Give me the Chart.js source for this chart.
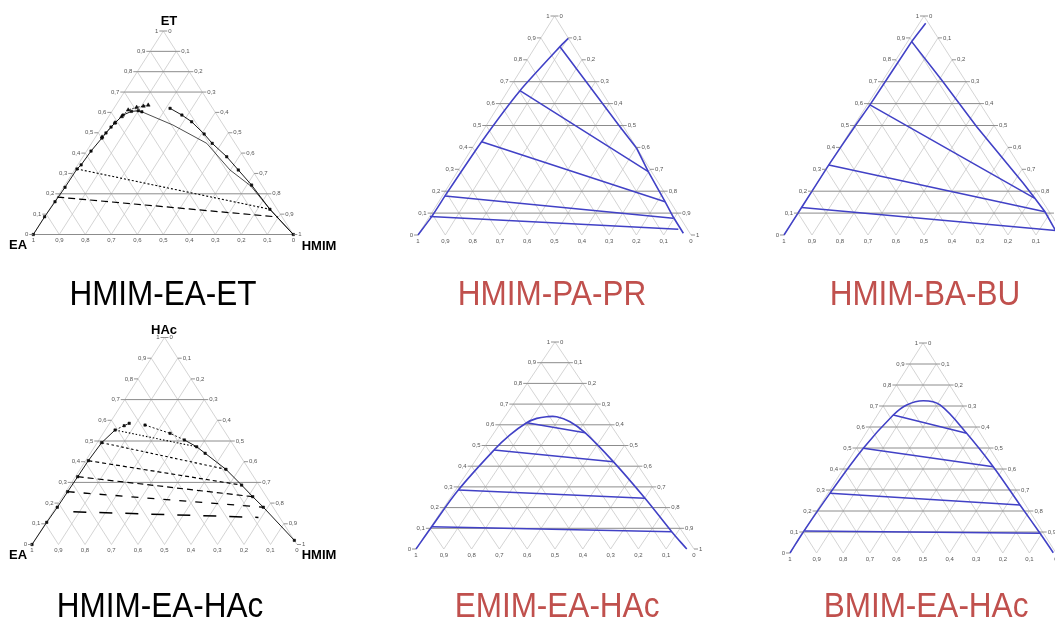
<!DOCTYPE html>
<html>
<head>
<meta charset="utf-8">
<title>Ternary phase diagrams</title>
<script src="https://cdn.jsdelivr.net/npm/chart.js@4.4.1/dist/chart.umd.min.js"></script>
<style>
  html, body { margin: 0; padding: 0; background: #fff; overflow: hidden; width: 1055px; height: 620px; }
  .panel { position: absolute; }
  .panel canvas { display: block; }
</style>
</head>
<body>
<div class="panel" id="panel0"><canvas></canvas></div>
<div class="panel" id="panel1"><canvas></canvas></div>
<div class="panel" id="panel2"><canvas></canvas></div>
<div class="panel" id="panel3"><canvas></canvas></div>
<div class="panel" id="panel4"><canvas></canvas></div>
<div class="panel" id="panel5"><canvas></canvas></div>
<script>
// Every composition is [ionic-liquid fraction (bottom-right vertex), top-vertex fraction];
// the bottom-left component is the remainder.

const panelTitles = ['HMIM-EA-ET', 'HMIM-PA-PR', 'HMIM-BA-BU', 'HMIM-EA-HAc', 'EMIM-EA-HAc', 'BMIM-EA-HAc'];
const fractionLabels = ['0', '0,1', '0,2', '0,3', '0,4', '0,5', '0,6', '0,7', '0,8', '0,9', '1'];

// HMIM - EA - ET
const etLeftBranch = [[0, 0], [0, 0.087], [0.003, 0.161], [0.006, 0.232], [0.007, 0.322], [0.013, 0.342],
  [0.017, 0.410], [0.027, 0.474], [0.030, 0.499], [0.035, 0.528], [0.040, 0.548], [0.052, 0.587],
  [0.075, 0.605], [0.100, 0.608], [0.116, 0.603]];
const etRightThin = [[0.116, 0.603], [0.268, 0.538], [0.443, 0.448], [0.598, 0.317], [0.718, 0.238], [0.848, 0.124], [1, 0]];
const etRightMarked = [[0.216, 0.620], [0.278, 0.587], [0.332, 0.554], [0.410, 0.494], [0.464, 0.448],
  [0.553, 0.382], [0.630, 0.317], [0.718, 0.243], [0.848, 0.124], [1, 0]];
const etTriangleBranch = [[0.025, 0.479], [0.040, 0.549], [0.050, 0.579], [0.059, 0.612], [0.085, 0.625], [0.108, 0.631], [0.124, 0.636]];
const etTieDotted = [[0.007, 0.322], [0.848, 0.124]];
const etTieDashed = [[0, 0.184], [0.898, 0.086]];

// HMIM - PA - PR
const prLeftBranch = [[0, 0], [0.008, 0.084], [0.010, 0.190], [0.020, 0.426], [0.044, 0.659], [0.090, 0.860], [0.1015, 0.898]];
const prRightBranch = [[0.090, 0.860], [0.4925, 0.4945], [0.603, 0.396], [0.699, 0.289], [0.829, 0.152], [0.895, 0.081], [0.968, 0.008]];
const prTieLines = [
  [[0.044, 0.659], [0.699, 0.289]],
  [[0.020, 0.426], [0.829, 0.152]],
  [[0.010, 0.178], [0.897, 0.076]],
  [[0.002, 0.084], [0.9405, 0.026]]
];

// HMIM - BA - BU
const buLeftBranch = [[0, 0], [0, 0.122], [0, 0.320], [0.005, 0.498], [0.010, 0.594], [0.0145, 0.883], [0.0225, 0.967]];
const buRightBranch = [[0.0145, 0.883], [0.209, 0.708], [0.441, 0.4945], [0.7366, 0.236], [0.812, 0.1676], [0.879, 0.106], [0.96, 0.02]];
const buTieLines = [
  [[0.010, 0.594], [0.812, 0.1676]],
  [[0, 0.320], [0.879, 0.106]],
  [[0, 0.126], [0.96, 0.02]]
];

// HMIM - EA - HAc
const hacLeftBranch = [[0, 0], [0.002, 0.107], [0.0055, 0.180], [0.007, 0.255], [0.0087, 0.3275], [0.010, 0.405],
  [0.017, 0.492], [0.037, 0.553], [0.061, 0.574], [0.074, 0.5855]];
const hacRightBranch = [[0.138, 0.577], [0.2525, 0.537], [0.3225, 0.505], [0.3855, 0.472], [0.433, 0.4406],
  [0.5505, 0.363], [0.6475, 0.287], [0.7175, 0.231], [0.783, 0.180], [0.98, 0.02]];
const hacTieLines = [
  [[0.037, 0.553], [0.3855, 0.472]],
  [[0.017, 0.492], [0.5505, 0.363]],
  [[0.010, 0.405], [0.6475, 0.287]],
  [[0.0087, 0.3275], [0.7175, 0.231]],
  [[0.007, 0.255], [0.783, 0.180]],
  [[0.077, 0.158], [0.789, 0.131]]
];

// EMIM - EA - HAc
const emimBinodal = [[0, 0], [0.0026, 0.1077], [0.0097, 0.285], [0.0416, 0.478], [0.0625, 0.551], [0.093, 0.610],
  [0.119, 0.631], [0.1505, 0.639], [0.1865, 0.639], [0.2465, 0.615], [0.327, 0.562], [0.4987, 0.422],
  [0.7012, 0.245], [0.878, 0.0836], [0.974, 0]];
const emimTieLines = [
  [[0.093, 0.610], [0.327, 0.562]],
  [[0.0416, 0.478], [0.4987, 0.422]],
  [[0.0097, 0.285], [0.7012, 0.245]],
  [[0.0026, 0.1077], [0.878, 0.0836]]
];

// BMIM - EA - HAc
const bmimBinodal = [[0, 0], [0, 0.1014], [0.008, 0.284], [0.0263, 0.4986], [0.0597, 0.657], [0.0862, 0.705],
  [0.1385, 0.725], [0.2115, 0.705], [0.379, 0.570], [0.5585, 0.411], [0.7504, 0.2286], [0.893, 0.0938], [0.989, 0.0014]];
const bmimTieLines = [
  [[0.0597, 0.657], [0.379, 0.570]],
  [[0.0263, 0.4986], [0.5585, 0.411]],
  [[0.008, 0.284], [0.7504, 0.2286]],
  [[0.003, 0.105], [0.893, 0.0938]]
];

// ---------- drawing helpers ----------
const toXY = ([h, t]) => ({ x: h + t / 2, y: t });
const GAP = { x: NaN, y: NaN };
const BLUE = '#4141c6';
const RED = '#c0504d';
const FONT = '"Liberation Sans", Arial, sans-serif';

function segments(list) {
  const out = [];
  list.forEach(([a, b]) => { out.push(toXY(a), toXY(b), GAP); });
  return out;
}

function gridDatasets(rows) {
  const diag = [];
  for (let k = 0; k < 10; k++) {
    const v = k / 10;
    diag.push([[v, 0], [v, 1 - v]]);
    diag.push([[1 - v, 0], [0, 1 - v]]);
  }
  const horiz = rows.map(v => [[0, v], [1 - v, v]]);
  return [
    { data: segments(horiz), borderColor: '#8c8c8c', borderWidth: 1, order: 19 },
    { data: segments(diag), borderColor: '#c9c9c9', borderWidth: 0.8, order: 20 }
  ];
}

function line(points, opts) {
  return Object.assign({ data: points.map(toXY), borderColor: '#000', borderWidth: 0.9, order: 2 }, opts);
}

const markerStyle = { pointRadius: 1.7, pointStyle: 'rect', pointBackgroundColor: '#111', pointBorderColor: '#000', pointBorderWidth: 0.5 };

// ---------- text layer: tick labels, vertex names, panel title ----------
const ternaryText = {
  id: 'ternaryText',
  afterDatasetsDraw(chart, args, o) {
    const { ctx } = chart;
    const sx = chart.scales.x, sy = chart.scales.y;
    const pix = c => { const p = toXY(c); return [sx.getPixelForValue(p.x), sy.getPixelForValue(p.y)]; };
    ctx.save();
    ctx.font = '6px ' + FONT;
    ctx.fillStyle = '#555';
    ctx.strokeStyle = '#777';
    ctx.lineWidth = 0.8;
    ctx.textBaseline = 'middle';
    for (let i = 0; i <= 10; i++) {
      const v = i / 10;
      // left edge: top-vertex fraction
      let [a, b] = pix([0, v]);
      ctx.beginPath(); ctx.moveTo(a - 4, b); ctx.lineTo(a, b); ctx.stroke();
      ctx.textAlign = 'right';
      ctx.fillText(fractionLabels[i], a - 5, b);
      // right edge: ionic-liquid fraction
      [a, b] = pix([1 - v, v]);
      ctx.beginPath(); ctx.moveTo(a, b); ctx.lineTo(a + 4, b); ctx.stroke();
      ctx.textAlign = 'left';
      ctx.fillText(fractionLabels[10 - i], a + 5, b);
      // bottom edge: bottom-left component fraction
      [a, b] = pix([v, 0]);
      ctx.textAlign = 'center';
      ctx.fillText(fractionLabels[10 - i], a, b + 6);
    }
    ctx.fillStyle = '#000';
    if (o.vertices) {
      ctx.font = 'bold 13px ' + FONT;
      ctx.textBaseline = 'alphabetic';
      ctx.textAlign = 'center';
      o.vertices.forEach(vl => ctx.fillText(vl.text, vl.x, vl.y));
    }
    ctx.font = '35px ' + FONT;
    ctx.fillStyle = o.titleColor;
    ctx.textAlign = 'center';
    ctx.textBaseline = 'alphabetic';
    ctx.translate(o.titleX, o.titleY);
    ctx.scale(0.9, 1);
    ctx.fillText(o.title, 0, 0);
    ctx.restore();
  }
};

// ---------- panel layout (page pixels): div box, triangle [left, right, apex, base] ----------
const panels = [
  { box: [0, 0, 352, 310], tri: [33.3, 293.3, 31, 234.5], titleAt: [163, 305], color: '#000',
    rows: [0, 0.2, 0.7, 0.8, 0.9],
    vertices: [{ text: 'ET', x: 169, y: 25 }, { text: 'EA', x: 18, y: 249 }, { text: 'HMIM', x: 319, y: 250 }],
    datasets: [
      line(etLeftBranch, markerStyle),
      line(etRightThin, { borderWidth: 0.7 }),
      line(etRightMarked, markerStyle),
      line(etTriangleBranch, { borderDash: [1.5, 1.5], pointRadius: 2.2, pointStyle: 'triangle', pointBackgroundColor: '#111', pointBorderColor: '#000', pointBorderWidth: 0.5 }),
      line(etTieDotted, { borderDash: [2, 2], borderWidth: 1.1 }),
      line(etTieDashed, { borderDash: [7, 4], borderWidth: 1.2 })
    ] },
  { box: [352, 0, 351, 310], tri: [418, 691, 16, 235], titleAt: [552, 305], color: RED,
    rows: [0.1, 0.2, 0.5, 0.6, 0.7],
    datasets: [
      line(prLeftBranch, { borderColor: BLUE, borderWidth: 1.6, tension: 0.2 }),
      line(prRightBranch, { borderColor: BLUE, borderWidth: 1.6 }),
      { data: segments(prTieLines), borderColor: BLUE, borderWidth: 1.5, order: 3 }
    ] },
  { box: [703, 0, 362, 310], tri: [784, 1064, 16, 235], titleAt: [925, 305], color: RED,
    rows: [0.1, 0.2, 0.5, 0.6, 0.7],
    datasets: [
      line(buLeftBranch, { borderColor: BLUE, borderWidth: 1.6, tension: 0.15 }),
      line(buRightBranch, { borderColor: BLUE, borderWidth: 1.6 }),
      { data: segments(buTieLines), borderColor: BLUE, borderWidth: 1.5, order: 3 }
    ] },
  { box: [0, 310, 352, 310], tri: [32, 297, 337.5, 544.5], titleAt: [160, 617], color: '#000',
    rows: [0.3, 0.5, 0.7],
    vertices: [{ text: 'HAc', x: 164, y: 24 }, { text: 'EA', x: 18, y: 249 }, { text: 'HMIM', x: 319, y: 249 }],
    datasets: [
      line(hacLeftBranch, Object.assign({ segment: { borderDash: c => c.p0DataIndex >= 7 ? [2, 2] : undefined } }, markerStyle)),
      line(hacRightBranch, Object.assign({ segment: { borderDash: c => c.p0DataIndex < 2 ? [2, 2] : undefined } }, markerStyle)),
      line(hacTieLines[0], { borderDash: [1.5, 2], borderWidth: 1.1 }),
      line(hacTieLines[1], { borderDash: [2.5, 2.5], borderWidth: 1.1 }),
      line(hacTieLines[2], { borderDash: [4, 3], borderWidth: 1.2 }),
      line(hacTieLines[3], { borderDash: [6, 4], borderWidth: 1.2 }),
      line(hacTieLines[4], { borderDash: [7, 9], borderWidth: 1.3 }),
      line(hacTieLines[5], { borderDash: [13, 13], borderWidth: 1.5 })
    ] },
  { box: [352, 310, 351, 310], tri: [416, 694, 342, 549], titleAt: [557, 617], color: RED,
    rows: [0.1, 0.2, 0.3, 0.4, 0.5, 0.6, 0.7, 0.8, 0.9],
    datasets: [
      line(emimBinodal, { borderColor: BLUE, borderWidth: 1.6, tension: 0.35 }),
      { data: segments(emimTieLines), borderColor: BLUE, borderWidth: 1.5, order: 3 }
    ] },
  { box: [703, 310, 362, 310], tri: [790, 1056, 343, 553], titleAt: [926, 617], color: RED,
    rows: [0.1, 0.2, 0.3, 0.4, 0.5, 0.6, 0.7, 0.8, 0.9],
    datasets: [
      line(bmimBinodal, { borderColor: BLUE, borderWidth: 1.6, tension: 0.35 }),
      { data: segments(bmimTieLines), borderColor: BLUE, borderWidth: 1.5, order: 3 }
    ] }
];

panels.forEach((p, i) => {
  const [left, top, width, height] = p.box;
  const [tl, tr, tt, tb] = p.tri;
  const div = document.getElementById('panel' + i);
  div.style.left = left + 'px';
  div.style.top = top + 'px';
  div.style.width = width + 'px';
  div.style.height = height + 'px';
  const canvas = div.querySelector('canvas');
  canvas.width = width;
  canvas.height = height;
  const datasets = p.datasets.concat(gridDatasets(p.rows)).map(d => Object.assign({
    showLine: true, spanGaps: false, pointRadius: 0, fill: false, clip: false
  }, d));
  new Chart(canvas, {
    type: 'scatter',
    data: { datasets },
    options: {
      responsive: false,
      animation: false,
      events: [],
      layout: { padding: { left: tl - left, right: left + width - tr, top: tt - top, bottom: top + height - tb } },
      scales: {
        x: { type: 'linear', min: 0, max: 1, display: false },
        y: { type: 'linear', min: 0, max: 1, display: false }
      },
      plugins: {
        legend: { display: false },
        tooltip: { enabled: false },
        ternaryText: {
          title: panelTitles[i],
          titleColor: p.color,
          titleX: p.titleAt[0] - left,
          titleY: p.titleAt[1] - top,
          vertices: p.vertices || null
        }
      }
    },
    plugins: [ternaryText]
  });
});
</script>
</body>
</html>
